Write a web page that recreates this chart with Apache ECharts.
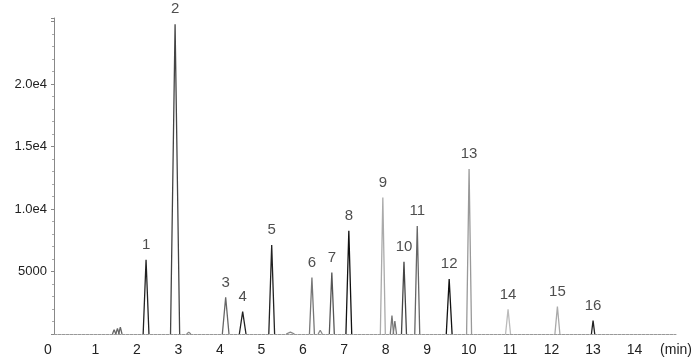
<!DOCTYPE html>
<html><head><meta charset="utf-8">
<script src="https://cdn.jsdelivr.net/npm/echarts@6/dist/echarts.min.js"></script>
<style>html,body{margin:0;padding:0;background:#fff}#c{width:700px;height:364px}</style>
</head><body><div id="c"></div>
<script>
// Retention times (min), apex heights, half base widths (min), peak labels
const peakTimes   = [1.45, 1.53, 1.60, 2.22, 2.92, 3.25, 4.14, 4.55, 5.25, 5.70, 6.22, 6.42, 6.70, 7.11, 7.93, 8.15, 8.22, 8.44, 8.76, 9.53, 10.01, 10.95, 12.14, 13.00];
const peakHeights = [350,  450,  550,  5950, 24800, 150, 2930, 1790, 7120, 150,  4530, 300,  4930, 8270, 10930, 1470, 1040, 5790, 8640, 4400, 13200, 1970, 2190, 1070];
const peakHalfW   = [0.04, 0.04, 0.04, 0.07, 0.11, 0.05, 0.08, 0.08, 0.07, 0.10, 0.06, 0.05, 0.06, 0.07, 0.06, 0.04, 0.04, 0.06, 0.06, 0.07, 0.06, 0.06, 0.06, 0.04];
const peakLabels  = ['', '', '', '1', '2', '', '3', '4', '5', '', '6', '', '7', '8', '9', '', '', '10', '11', '12', '13', '14', '15', '16'];
const peakShades  = ['#666','#666','#666','#222','#444','#888','#666','#222','#222','#888','#777','#888','#555','#111','#aaa','#777','#777','#444','#666','#111','#999','#bbb','#aaa','#222'];
const xTicks = [0,1,2,3,4,5,6,7,8,9,10,11,12,13,14,15];
const yTickLabels = {5000:'5000', 10000:'1.0e4', 15000:'1.5e4', 20000:'2.0e4'};

const font = 'Liberation Sans, Arial, sans-serif';
const series = [];
peakTimes.forEach((t, i) => {
  series.push({
    type: 'line', silent: true, animation: false,
    showSymbol: false, symbol: 'none',
    lineStyle: { color: peakShades[i], width: 1.3 },
    data: [[t - peakHalfW[i], 0], [t, peakHeights[i]], [t + peakHalfW[i], 0]]
  });
});
series.push({
  type: 'scatter', silent: true, animation: false,
  symbolSize: 1, itemStyle: { color: 'rgba(0,0,0,0)' },
  label: { show: true, position: 'top', distance: 7, color: '#222', fontSize: 15, fontFamily: font,
           formatter: p => p.data[2] },
  data: peakTimes.map((t, i) => [t, peakHeights[i], peakLabels[i]]).filter(d => d[2] !== '')
});

const chart = echarts.init(document.getElementById('c'), null, { renderer: 'canvas' });
chart.setOption({
  animation: false,
  grid: { left: 54, right: 24, top: 18, bottom: 30, containLabel: false },
  xAxis: {
    type: 'value', min: 0, max: 15, interval: 1,
    axisLine: { show: true, lineStyle: { color: '#999', width: 1, type: [3, 1] } },
    axisTick: { show: false },
    splitLine: { show: false },
    axisLabel: { color: '#222', fontSize: 14, fontFamily: font, margin: 9, showMaxLabel: true, showMinLabel: true,
      rich: { z: { fontSize: 14, fontFamily: font, color: '#222', padding: [0, 12, 0, 0] } },
      formatter: v => v === 15 ? '(min)' : (v === 0 ? '{z|0}' : (xTicks.includes(v) ? String(v) : '')) }
  },
  yAxis: {
    type: 'value', min: 0, max: 25300, interval: 5000,
    axisLine: { show: true, lineStyle: { color: '#888', width: 1 } },
    axisTick: { show: true, length: 3, lineStyle: { color: '#888' } },
    minorTick: { show: true, splitNumber: 5, length: 2, lineStyle: { color: '#aaa' } },
    splitLine: { show: false },
    axisLabel: { color: '#222', fontSize: 13, fontFamily: font, margin: 7,
      formatter: v => yTickLabels[v] || '' }
  },
  series: series
});
</script></body></html>
